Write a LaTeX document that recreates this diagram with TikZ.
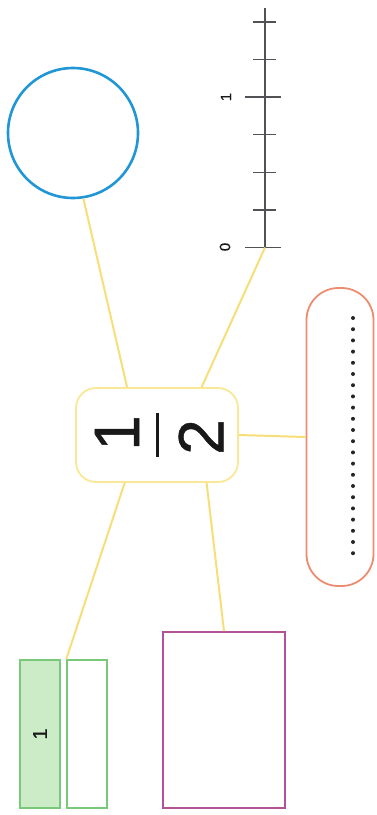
\documentclass[tikz,border=0pt]{standalone}
\usepackage{fontspec}
\setmainfont{Liberation Sans}
\newfontfamily\numfont[FakeBold=0.8]{Liberation Sans}

\definecolor{clink}{RGB}{246,222,120}
\definecolor{chub}{RGB}{250,232,150}
\definecolor{cround}{RGB}{32,150,212}
\definecolor{cstrip}{RGB}{236,140,112}
\definecolor{cplum}{RGB}{180,82,152}
\definecolor{cbar}{RGB}{122,200,122}
\definecolor{cbarfill}{RGB}{204,236,200}
\definecolor{caxis}{RGB}{82,82,86}

\begin{document}
\begin{tikzpicture}[x=1pt, y=-1pt,
  hub/.style={draw=chub, fill=white, rounded corners=20pt, line width=1.8pt,
              minimum width=162pt, minimum height=94pt},
  link/.style={clink, line width=2pt},
  digit/.style={rotate=90, inner sep=0pt, text=black!90},
  bar/.style={draw=cbar, line width=1.6pt, minimum width=40pt,
              minimum height=148pt},
]
\useasboundingbox (0,0) rectangle (376,815);
% --- the half in the middle ---------------------------------------------
\node[hub] (half) at (157,435) {};
\node[digit, font=\numfont\fontsize{64}{64}\selectfont] (num) at (117,433) {1};
\node[digit, font=\numfont\fontsize{64}{64}\selectfont] (den) at (201,437) {2};
\draw[black!90, line width=3pt] (157,413) -- (157,457);
% --- the shapes round it ------------------------------------------------
\node[circle, draw=cround, line width=2.6pt, minimum size=130pt]
  (round) at (73,133) {};
\node[draw=cstrip, line width=1.8pt, rounded corners=32pt,
      minimum width=67pt, minimum height=298pt] (strip) at (340,437) {};
\foreach \i in {0,...,21}
  \fill[black!85] (353,318+\i*11.2) circle (2pt);
\node[draw=cplum, line width=1.8pt, minimum width=122pt,
      minimum height=176pt] (plum) at (224,720) {};
\node[bar, fill=cbarfill] (full) at (40,734) {};
\node[bar] (empty) at (87,734) {};
\node[digit, font=\numfont\fontsize{20}{20}\selectfont] at (full) {1};
% --- number line (0 at the bottom, 1 four steps up) ---------------------
\coordinate (zero) at (265,247.5);
\coordinate (one) at (265,97);
\draw[caxis, line width=1.6pt] (zero) -- (265,8);
\foreach \k in {1,2,3,5,6}
  \draw[caxis, line width=1.2pt] (253,247.5-\k*37.6) -- (276,247.5-\k*37.6);
\draw[caxis, line width=1.6pt] ([xshift=-20pt]zero) -- ([xshift=16pt]zero);
\draw[caxis, line width=1.6pt] ([xshift=-20pt]one) -- ([xshift=16pt]one);
\node[digit, font=\numfont\fontsize{15}{15}\selectfont] at (225,247) {0};
\node[digit, font=\numfont\fontsize{15}{15}\selectfont] at (226,97) {1};
% --- links from the half ------------------------------------------------
\draw[link] (half.122) -- (round.-81);
\draw[link] (half.47) -- (zero);
\draw[link] (half.east) -- (strip.west);
\draw[link] (half.-44) -- (plum.north);
\draw[link] (half.-124) -- (empty.north west);
\end{tikzpicture}
\end{document}
